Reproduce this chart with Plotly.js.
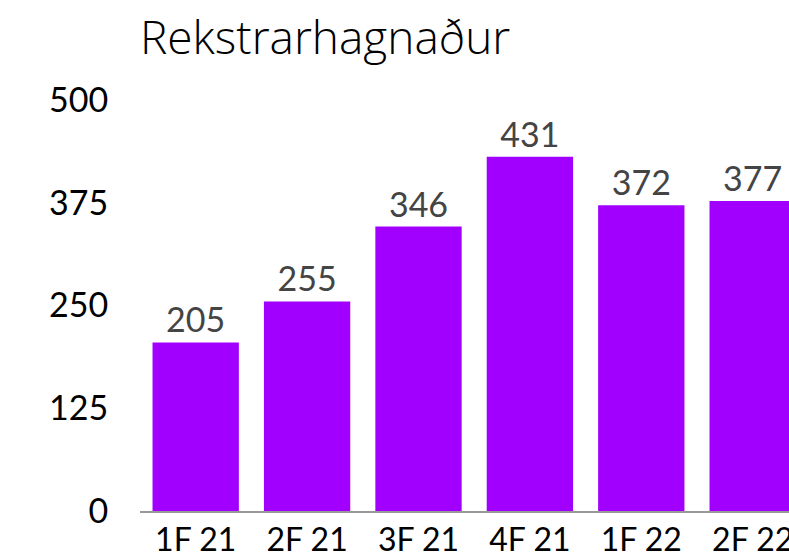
<!DOCTYPE html>
<html>
<head>
<meta charset="utf-8">
<script src="https://cdn.plot.ly/plotly-3.0.1.min.js"></script>
<style>html,body{margin:0;padding:0;overflow:hidden;background:#fff;}</style>
</head>
<body>
<div id="chart" style="width:789px;height:557px;"></div>
<script>
const categories = ["1F 21", "2F 21", "3F 21", "4F 21", "1F 22", "2F 22"];
const values = [205, 255, 346, 431, 372, 377];
const yTicks = [0, 125, 250, 375, 500];
const chartTitle = "Rekstrarhagnaður";

const FONT = "Lato, 'Liberation Sans', sans-serif";
const TITLE_FONT = "'Open Sans', Lato, sans-serif";

Plotly.newPlot("chart", [{
  type: "bar",
  x: categories,
  y: values,
  marker: {color: "#A100FF"},
  text: values.map(String),
  textposition: "outside",
  textfont: {family: FONT, size: 34, color: "#444444"},
  cliponaxis: false,
  hoverinfo: "none"
}], {
  width: 789,
  height: 557,
  margin: {l: 140, r: 0, t: 100, b: 46, pad: 0},
  paper_bgcolor: "#ffffff",
  plot_bgcolor: "#ffffff",
  showlegend: false,
  bargap: 0.225,
  title: {
    text: chartTitle,
    font: {family: TITLE_FONT, size: 46, weight: 300, color: "#000000"},
    xref: "container", yref: "container",
    x: 140 / 789, xanchor: "left",
    y: 1 - 38 / 557, yanchor: "middle"
  },
  xaxis: {
    type: "category",
    range: [-0.5, 5.326],
    showgrid: false,
    zeroline: false,
    showline: true,
    linecolor: "#999999",
    linewidth: 2,
    ticks: "",
    tickfont: {family: FONT, size: 32, color: "#000000"},
    fixedrange: true
  },
  yaxis: {
    range: [0, 500],
    tickvals: yTicks,
    ticktext: yTicks.map(String),
    showgrid: false,
    zeroline: false,
    showline: false,
    ticks: "outside",
    ticklen: 24,
    tickcolor: "rgba(0,0,0,0)",
    tickfont: {family: FONT, size: 34, color: "#000000"},
    fixedrange: true
  }
}, {displayModeBar: false, staticPlot: true});
</script>
</body>
</html>
